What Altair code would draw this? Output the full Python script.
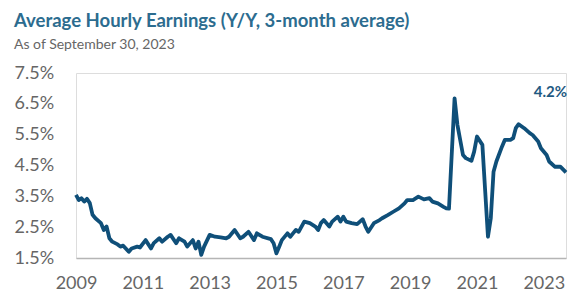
import altair as alt
import pandas as pd

dates = [
    "2009-01", "2009-02", "2009-03", "2009-04", "2009-05", "2009-06", "2009-07", "2009-08",
    "2009-10", "2009-11", "2009-12", "2010-01", "2010-02", "2010-04", "2010-05", "2010-06",
    "2010-08", "2010-09", "2010-11", "2010-12", "2011-02", "2011-04", "2011-05", "2011-07",
    "2011-08", "2011-10", "2011-11", "2012-01", "2012-02", "2012-04", "2012-05", "2012-07",
    "2012-08", "2012-09", "2012-10", "2012-11", "2013-01", "2013-03", "2013-05", "2013-07",
    "2013-08", "2013-10", "2013-12", "2014-01", "2014-03", "2014-05", "2014-06", "2014-08",
    "2014-11", "2014-12", "2015-01", "2015-02", "2015-03", "2015-05", "2015-06", "2015-07",
    "2015-08", "2015-09", "2015-11", "2016-01", "2016-03", "2016-04", "2016-05", "2016-06",
    "2016-08", "2016-09", "2016-11", "2016-12", "2017-01", "2017-02", "2017-04", "2017-06",
    "2017-08", "2017-09", "2017-10", "2017-12", "2018-02", "2018-03", "2018-05", "2018-07",
    "2018-09", "2018-11", "2018-12", "2019-02", "2019-04", "2019-06", "2019-08", "2019-09",
    "2019-11", "2020-01", "2020-02", "2020-03", "2020-05", "2020-06", "2020-08", "2020-09",
    "2020-11", "2020-12", "2021-01", "2021-03", "2021-04", "2021-05", "2021-06", "2021-07",
    "2021-08", "2021-10", "2021-11", "2022-01", "2022-02", "2022-03", "2022-04", "2022-06",
    "2022-08", "2022-09", "2022-11", "2022-12", "2023-02", "2023-03", "2023-05", "2023-07",
    "2023-09",
]
values = [
    3.55, 3.38, 3.44, 3.33, 3.42, 3.28, 2.90, 2.79,
    2.63, 2.41, 2.52, 2.14, 2.03, 1.94, 1.87, 1.90,
    1.70, 1.81, 1.87, 1.84, 2.08, 1.81, 1.98, 2.14,
    2.03, 2.19, 2.25, 1.98, 2.14, 2.03, 1.87, 2.08,
    1.81, 2.03, 1.60, 1.87, 2.25, 2.19, 2.17, 2.14,
    2.19, 2.41, 2.14, 2.19, 2.35, 2.08, 2.30, 2.19,
    2.11, 1.98, 1.65, 1.87, 2.08, 2.30, 2.19, 2.30,
    2.41, 2.35, 2.68, 2.63, 2.52, 2.41, 2.63, 2.73,
    2.52, 2.68, 2.84, 2.68, 2.84, 2.68, 2.63, 2.60,
    2.76, 2.52, 2.35, 2.63, 2.73, 2.79, 2.89, 3.00,
    3.11, 3.27, 3.38, 3.38, 3.49, 3.40, 3.44, 3.33,
    3.27, 3.16, 3.11, 3.10, 6.68, 5.82, 4.84, 4.74,
    4.65, 4.95, 5.44, 5.17, 3.65, 2.19, 2.79, 4.30,
    4.63, 5.11, 5.33, 5.33, 5.39, 5.71, 5.84, 5.71,
    5.55, 5.49, 5.28, 5.06, 4.84, 4.63, 4.46, 4.46,
    4.28,
]
y_ticks = [1.5, 2.5, 3.5, 4.5, 5.5, 6.5, 7.5]
x_tick_years = [2009, 2011, 2013, 2015, 2017, 2019, 2021, 2023]
end_label = "4.2%"

df = pd.DataFrame({"date": [d + "-01" for d in dates], "value": values})
label_df = pd.DataFrame({"date": [dates[-1] + "-01"], "label": [end_label]})

FONT = "Lato"
LINE = "#0f4f79"

x_enc = alt.X(
    "date:T",
    scale=alt.Scale(domain=["2009-01-01", "2023-09-01"]),
    axis=alt.Axis(
        values=[alt.DateTime(year=y, month=1, date=1) for y in x_tick_years],
        format="%Y", title=None, grid=False, ticks=False, tickSize=0,
        labelFont=FONT, labelFontSize=18, labelColor="#666666", labelPadding=16,
        domainColor="#b5b5b5", domainWidth=1.5, labelFlush=False,
    ),
)

line = alt.Chart(df).mark_line(color=LINE, strokeWidth=3.8, strokeJoin="round").encode(
    x=x_enc,
    y=alt.Y(
        "value:Q",
        scale=alt.Scale(domain=[1.5, 7.5], nice=False, zero=False),
        axis=alt.Axis(
            values=y_ticks, labelExpr="format(datum.value, '.1f') + '%'",
            title=None, grid=False, ticks=False, tickSize=0, domain=False,
            labelFont=FONT, labelFontSize=18, labelColor="#666666",
            labelAlign="left", labelPadding=62, labelBaseline="middle",
        ),
    ),
)

label = alt.Chart(label_df).mark_text(
    align="right", baseline="middle", font=FONT, fontSize=15, fontWeight="bold",
    color="#1f5a82", dx=1,
).encode(x="date:T", y=alt.value(19), text="label:N")

chart = alt.layer(line, label).properties(
    width=490,
    height=185,
    padding={"left": 68, "top": 65, "right": 8, "bottom": 38},
    autosize=alt.AutoSizeParams(type="none"),
    title=alt.TitleParams(
        text="Average Hourly Earnings (Y/Y, 3-month average)",
        subtitle="As of September 30, 2023",
        anchor="start", frame="group", dx=-62, offset=12,
        font=FONT, fontSize=18.5, fontWeight="bold", color="#2c6c8f",
        subtitleFont=FONT, subtitleFontSize=14, subtitleColor="#666666",
        subtitlePadding=8,
    ),
).configure_view(stroke=None).configure(background="white")

chart.save("out.html", embed_options={"renderer": "svg", "actions": False})
